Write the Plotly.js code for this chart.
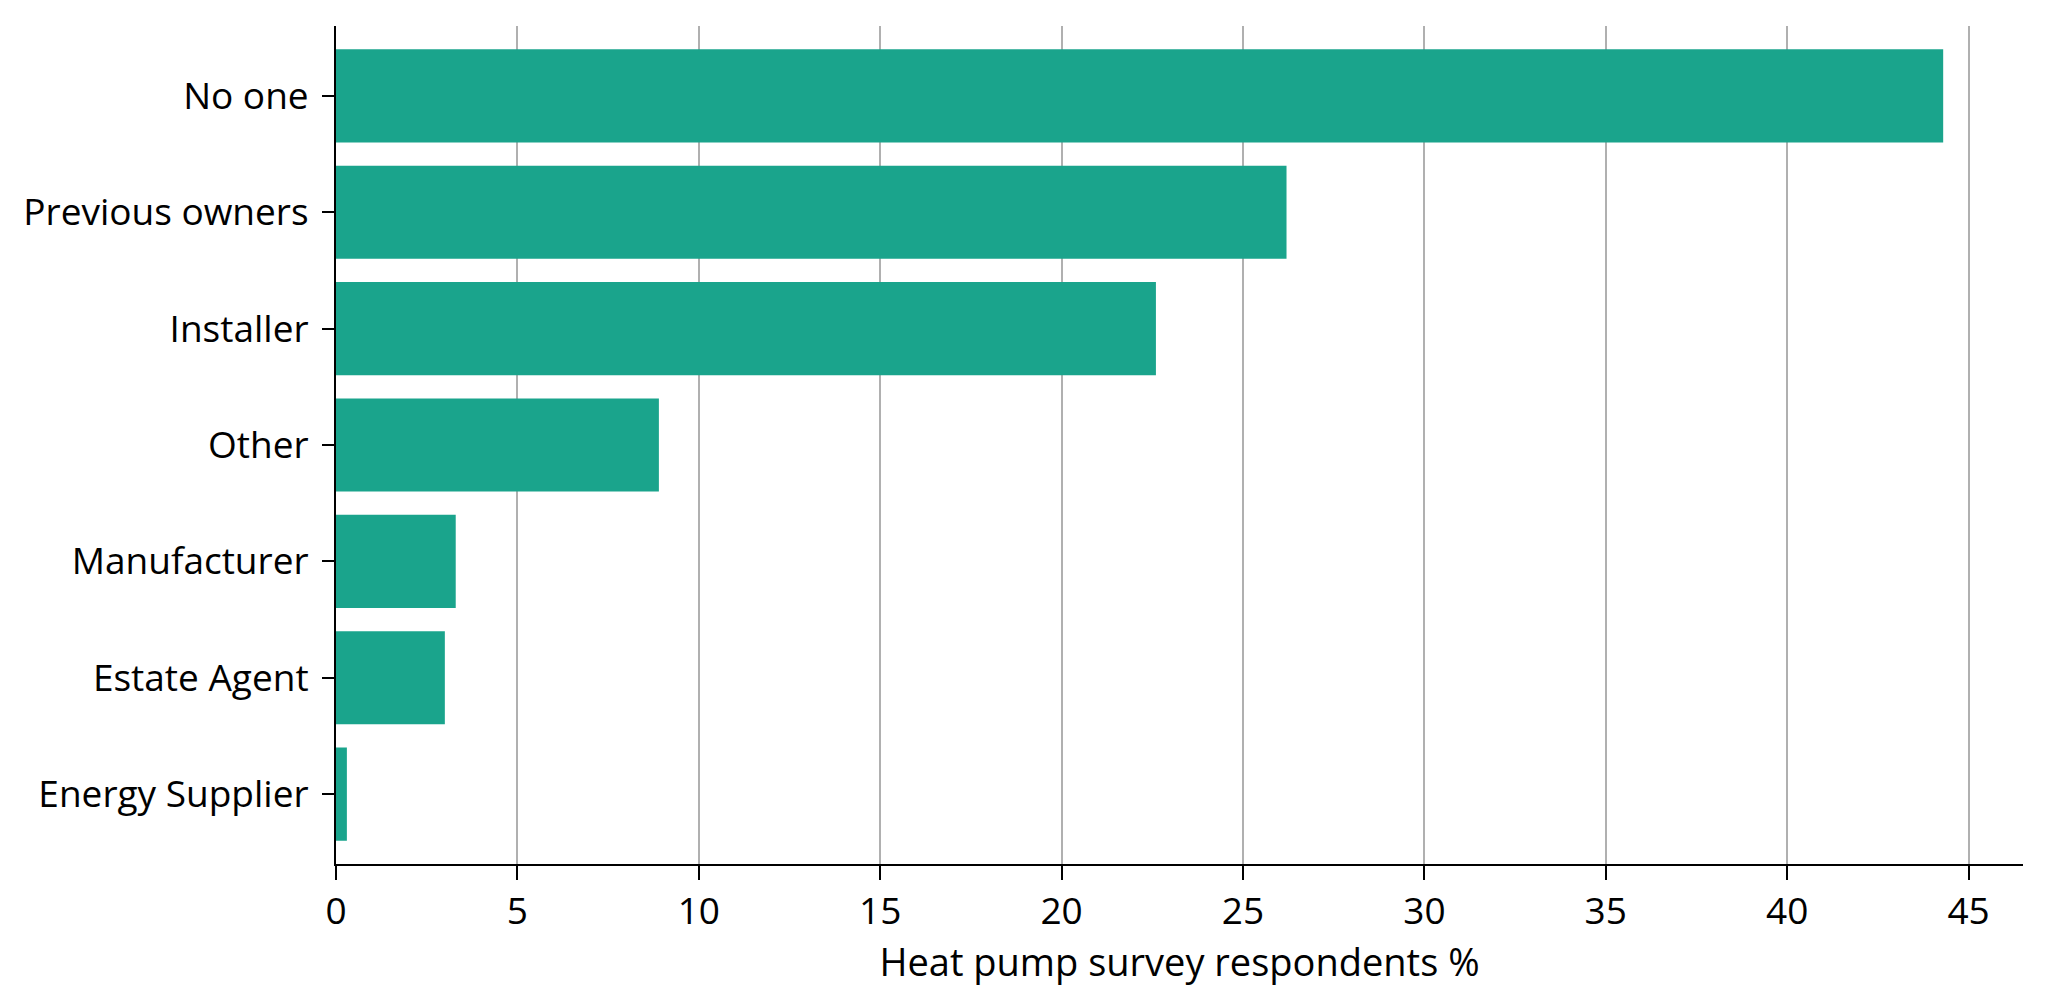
<!DOCTYPE html>
<html>
<head>
<meta charset="utf-8">
<script src="https://cdn.plot.ly/plotly-3.0.1.min.js"></script>
<style>
  html, body { margin: 0; padding: 0; background: #fff; }
  #chart { width: 2048px; height: 1003px; }
</style>
</head>
<body>
<div id="chart"></div>
<script>
// who told respondents about their heat pump
const categories = ['No one', 'Previous owners', 'Installer', 'Other', 'Manufacturer', 'Estate Agent', 'Energy Supplier'];
const respondentsPct = [44.3, 26.2, 22.6, 8.9, 3.3, 3.0, 0.3];
const xTicks = [0, 5, 10, 15, 20, 25, 30, 35, 40, 45];
const xTitle = 'Heat pump survey respondents %';

const FONT = '"Open Sans", "DejaVu Sans", sans-serif';

const bars = {
    type: 'bar',
    orientation: 'h',
    x: respondentsPct,
    y: categories,
    width: 0.8,
    marker: { color: '#1aa48c', line: { width: 0 } },
    hoverinfo: 'x+y'
};

const layout = {
    width: 2048,
    height: 1003,
    margin: { l: 336, r: 25, t: 26, b: 139, pad: 0 },
    paper_bgcolor: '#ffffff',
    plot_bgcolor: '#ffffff',
    showlegend: false,
    font: { family: FONT, size: 38, color: '#000000' },
    xaxis: {
        range: [0, 46.5],
        tickvals: xTicks,
        ticktext: xTicks.map(String),
        showgrid: true,
        gridcolor: '#b0b0b0',
        gridwidth: 2,
        zeroline: false,
        showline: true,
        linecolor: '#000000',
        linewidth: 2,
        ticks: 'outside',
        ticklen: 14,
        tickwidth: 2,
        tickcolor: '#000000',
        tickfont: { family: FONT, size: 37, color: '#000000' },
        title: { text: xTitle, font: { family: FONT, size: 38, color: '#000000' }, standoff: 0 },
        fixedrange: true
    },
    yaxis: {
        type: 'category',
        categoryorder: 'array',
        categoryarray: categories,
        range: [6.6, -0.6],
        showgrid: false,
        zeroline: false,
        showline: true,
        linecolor: '#000000',
        linewidth: 2,
        ticks: 'outside',
        ticklen: 12,
        tickwidth: 2,
        tickcolor: '#000000',
        ticklabelstandoff: 6,
        tickfont: { family: FONT, size: 37, color: '#000000' },
        fixedrange: true
    }
};

Plotly.newPlot('chart', [bars], layout, { staticPlot: true, displayModeBar: false });
</script>
</body>
</html>
